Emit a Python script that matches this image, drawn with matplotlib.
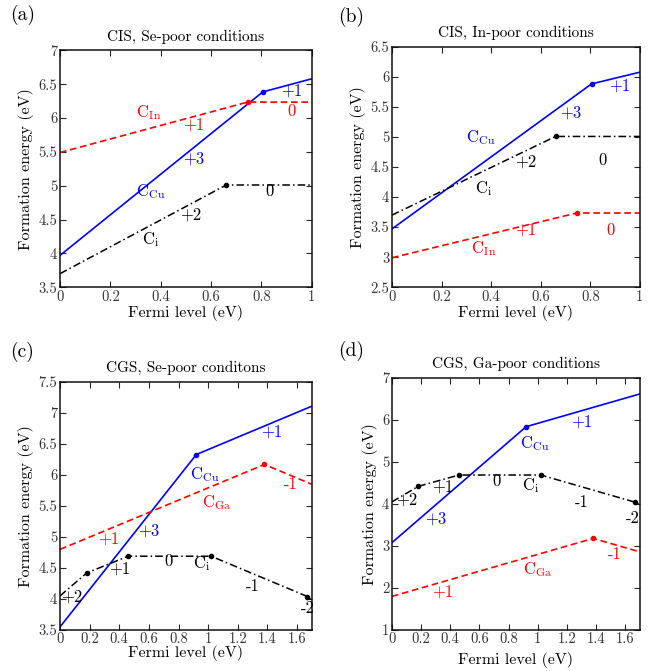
import matplotlib
matplotlib.use("Agg")
import matplotlib.pyplot as plt

plt.rcParams['font.family'] = ['cmr10', 'DejaVu Serif']
plt.rcParams['mathtext.fontset'] = 'cm'
plt.rcParams['axes.formatter.use_mathtext'] = True
plt.rcParams['axes.unicode_minus'] = False

# ---------------- data ----------------
# (a) CIS, Se-poor
a_cu_x = [0, 0.805, 1.0];  a_cu_y = [3.97, 6.385, 6.58]
a_in_x = [0, 0.745, 1.0];  a_in_y = [5.49, 6.235, 6.235]
a_i_x = [0, 0.66, 1.0];    a_i_y = [3.70, 5.01, 5.01]
# (b) CIS, In-poor
b_cu_x = [0, 0.805, 1.0];  b_cu_y = [3.47, 5.885, 6.08]
b_in_x = [0, 0.745, 1.0];  b_in_y = [2.99, 3.735, 3.735]
b_i_x = [0, 0.66, 1.0];    b_i_y = [3.70, 5.01, 5.01]
# (c) CGS, Se-poor
c_cu_x = [0, 0.92, 1.7];   c_cu_y = [3.55, 6.33, 7.11]
c_ga_x = [0, 1.38, 1.7];   c_ga_y = [4.80, 6.17, 5.85]
c_i_x = [0, 0.18, 0.46, 1.02, 1.67, 1.7]
c_i_y = [4.05, 4.42, 4.69, 4.69, 4.04, 3.98]
# (d) CGS, Ga-poor
d_cu_x = [0, 0.92, 1.7];   d_cu_y = [3.08, 5.84, 6.62]
d_ga_x = [0, 1.38, 1.7];   d_ga_y = [1.80, 3.18, 2.86]
d_i_x = [0, 0.18, 0.46, 1.02, 1.67, 1.7]
d_i_y = [4.05, 4.42, 4.69, 4.69, 4.04, 3.98]

BLUE = (0, 0, 1)
RED = (1, 0, 0)
BLACK = (0, 0, 0)

panels = [
    dict(pos=[0.0908, 0.572, 0.381, 0.353], tag='(a)', tagpos=(0.016, 0.992), title='CIS, Se-poor conditions',
         xlim=(0, 1), ylim=(3.5, 7), xticks=[0, 0.2, 0.4, 0.6, 0.8, 1], xpad=1,
         yticks=[3.5, 4, 4.5, 5, 5.5, 6, 6.5, 7],
         lines=[(a_cu_x, a_cu_y, BLUE, '-'), (a_in_x, a_in_y, RED, '--'), (a_i_x, a_i_y, BLACK, '-.')],
         labels=[(0.35, 6.08, r'$\mathrm{C_{In}}$', RED), (0.53, 5.9, '+1', RED), (0.92, 6.1, '0', RED),
                 (0.53, 5.4, '+3', BLUE), (0.36, 4.92, r'$\mathrm{C_{Cu}}$', BLUE), (0.92, 6.4, '+1', BLUE),
                 (0.52, 4.57, '+2', BLACK), (0.36, 4.2, r'$\mathrm{C_{i}}$', BLACK), (0.83, 4.92, '0', BLACK)]),
    dict(pos=[0.593, 0.572, 0.375, 0.358], tag='(b)', tagpos=(0.511, 0.990), title='CIS, In-poor conditions',
         xlim=(0, 1), ylim=(2.5, 6.5), xticks=[0, 0.2, 0.4, 0.6, 0.8, 1], xpad=1,
         yticks=[2.5, 3, 3.5, 4, 4.5, 5, 5.5, 6, 6.5],
         lines=[(b_cu_x, b_cu_y, BLUE, '-'), (b_in_x, b_in_y, RED, '--'), (b_i_x, b_i_y, BLACK, '-.')],
         labels=[(0.36, 5.0, r'$\mathrm{C_{Cu}}$', BLUE), (0.72, 5.4, '+3', BLUE), (0.92, 5.85, '+1', BLUE),
                 (0.54, 4.58, '+2', BLACK), (0.37, 4.15, r'$\mathrm{C_{i}}$', BLACK), (0.85, 4.62, '0', BLACK),
                 (0.54, 3.45, '+1', RED), (0.37, 3.15, r'$\mathrm{C_{In}}$', RED), (0.88, 3.45, '0', RED)]),
    dict(pos=[0.0908, 0.0611, 0.381, 0.3696], tag='(c)', tagpos=(0.016, 0.490), title='CGS, Se-poor conditons',
         xlim=(0, 1.7), ylim=(3.5, 7.5), xticks=[0, 0.2, 0.4, 0.6, 0.8, 1, 1.2, 1.4, 1.6], xpad=-1,
         yticks=[3.5, 4, 4.5, 5, 5.5, 6, 6.5, 7, 7.5],
         lines=[(c_cu_x, c_cu_y, BLUE, '-'), (c_ga_x, c_ga_y, RED, '--'), (c_i_x, c_i_y, BLACK, '-.')],
         labels=[(1.43, 6.7, '+1', BLUE), (0.98, 6.0, r'$\mathrm{C_{Cu}}$', BLUE), (0.6, 5.1, '+3', BLUE),
                 (1.56, 5.85, '-1', RED), (1.06, 5.55, r'$\mathrm{C_{Ga}}$', RED), (0.33, 4.97, '+1', RED),
                 (0.08, 4.03, '+2', BLACK), (0.4, 4.48, '+1', BLACK), (0.73, 4.6, '0', BLACK),
                 (0.96, 4.57, r'$\mathrm{C_{i}}$', BLACK), (1.3, 4.2, '-1', BLACK), (1.67, 3.85, '-2', BLACK)]),
    dict(pos=[0.593, 0.0611, 0.375, 0.3756], tag='(d)', tagpos=(0.511, 0.492), title='CGS, Ga-poor conditions',
         xlim=(0, 1.7), ylim=(1, 7), xticks=[0, 0.2, 0.4, 0.6, 0.8, 1, 1.2, 1.4, 1.6], xpad=4,
         yticks=[1, 2, 3, 4, 5, 6, 7],
         lines=[(d_cu_x, d_cu_y, BLUE, '-'), (d_ga_x, d_ga_y, RED, '--'), (d_i_x, d_i_y, BLACK, '-.')],
         labels=[(1.3, 5.95, '+1', BLUE), (0.98, 5.45, r'$\mathrm{C_{Cu}}$', BLUE), (0.3, 3.65, '+3', BLUE),
                 (0.1, 4.1, '+2', BLACK), (0.35, 4.4, '+1', BLACK), (0.72, 4.55, '0', BLACK),
                 (0.95, 4.45, r'$\mathrm{C_{i}}$', BLACK), (1.3, 4.05, '-1', BLACK), (1.65, 3.65, '-2', BLACK),
                 (1.53, 2.8, '-1', RED), (1.0, 2.45, r'$\mathrm{C_{Ga}}$', RED), (0.35, 1.9, '+1', RED)]),
]

fig = plt.figure(figsize=(6.61, 6.71), dpi=100)

for p in panels:
    ax = fig.add_axes(p['pos'])
    for xs, ys, col, ls in p['lines']:
        if ls == '-.':
            ax.plot(xs, ys, color=col, linewidth=1.1, dashes=(5, 2, 1, 2))
        elif ls == '--':
            ax.plot(xs, ys, color=col, linewidth=1.2, dashes=(4, 2.2))
        else:
            ax.plot(xs, ys, color=col, linewidth=1.2)
        ax.plot(xs[1:-1], ys[1:-1], 'o', color=col, markersize=3)
    for x, y, s, col in p['labels']:
        ax.text(x, y, s, color=col, fontsize=12, ha='center', va='center')
    ax.set_xlim(*p['xlim'])
    ax.set_ylim(*p['ylim'])
    ax.set_xticks(p['xticks'])
    ax.set_yticks(p['yticks'])
    ax.set_xticklabels([('%g' % t) for t in p['xticks']])
    ax.set_yticklabels([('%g' % t) for t in p['yticks']])
    ax.tick_params(direction='in', top=True, right=True, labelsize=10.5, length=4, width=0.8,
                   colors='#262626', labelcolor='#333333', pad=2)
    for sp in ax.spines.values():
        sp.set_linewidth(1.1)
        sp.set_color('#111111')
    ax.set_title(p['title'], fontsize=11, pad=7)
    ax.set_xlabel('Fermi level (eV)', fontsize=11.5, labelpad=p['xpad'])
    ax.set_ylabel('Formation energy (eV)', fontsize=11.5, labelpad=3)
    fig.text(p['tagpos'][0], p['tagpos'][1], p['tag'], fontsize=14, ha='left', va='top')

fig.savefig('out.png', dpi=100)
